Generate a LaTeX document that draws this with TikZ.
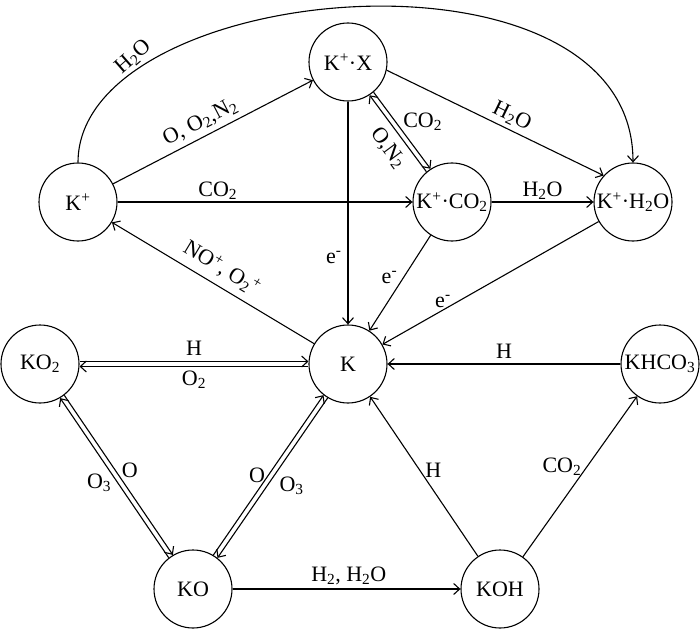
\documentclass[tikz,border=0pt]{standalone}
\usepackage{fontspec}
\setmainfont{Liberation Serif}
\usetikzlibrary{arrows.meta}
\begin{document}
\begin{tikzpicture}[x=1pt,y=-1pt,
  st/.style={circle,draw,line width=1.1pt,minimum size=78pt,inner sep=0pt,font=\fontsize{22}{24}\selectfont},
  lbl/.style={font=\fontsize{22}{24}\selectfont,inner sep=2pt},
  arr/.style={line width=1.1pt,-{Straight Barb[length=6pt,width=11pt,line width=1.1pt]}},
]
\useasboundingbox (0,0) rectangle (700,628);
% nodes
\node[st] (Kp)    at (78,202)  {K\textsuperscript{+}};
\node[st] (KpX)   at (348,62)  {K\textsuperscript{+}·X};
\node[st] (KpCO)  at (452,202) {K\textsuperscript{+}·CO\textsubscript{2}};
\node[st] (KpHO)  at (633,202) {K\textsuperscript{+}·H\textsubscript{2}O};
\node[st] (K)     at (348,364) {K};
\node[st] (KOt)   at (40,364)  {KO\textsubscript{2}};
\node[st] (KHC)   at (660,364) {KHCO\textsubscript{3}};
\node[st] (KO)    at (193,589) {KO};
\node[st] (KOH)   at (500,589) {KOH};
% top part
\draw[arr] (Kp.north) .. controls (78,-20) and (633,-70) .. node[lbl,sloped,above=1pt,pos=0.21,rotate=8]{H\textsubscript{2}O} (KpHO.north);
\draw[arr] (Kp) -- node[lbl,sloped,above=3pt,pos=0.47]{O, O\textsubscript{2},N\textsubscript{2}} (KpX);
\draw[arr] (Kp) -- node[lbl,above,pos=0.34]{CO\textsubscript{2}} (KpCO);
\draw[arr] (KpX.-12) -- node[lbl,sloped,above=2pt,pos=0.55]{H\textsubscript{2}O} (KpHO.138);
\draw[arr,transform canvas={shift={(2pt,1.5pt)}}] (KpX) -- node[lbl,right=5pt,pos=0.39]{CO\textsubscript{2}} (KpCO);
\draw[arr,transform canvas={shift={(-2pt,-1.5pt)}}] (KpCO) -- node[lbl,sloped,below=5pt,pos=0.44]{O,N\textsubscript{2}} (KpX);
\draw[arr] (KpCO) -- node[lbl,above]{H\textsubscript{2}O} (KpHO);
% electrons
\draw[arr] (KpX) -- node[lbl,left=4pt,pos=0.70]{e\textsuperscript{-}} (K);
\draw[arr] (KpCO) -- node[lbl,left=4pt,pos=0.44]{e\textsuperscript{-}} (K);
\draw[arr] (KpHO) -- node[lbl,above,pos=0.72]{e\textsuperscript{-}} (K);
\draw[arr] (K) -- node[lbl,sloped,above=5pt,pos=0.5]{NO\textsuperscript{+}, O\textsubscript{2}\textsuperscript{+}} (Kp);
% lower part
\draw[arr,transform canvas={yshift=2.5pt}] (KOt) -- node[lbl,above=3pt]{H} (K);
\draw[arr,transform canvas={yshift=-2.5pt}] (K) -- node[lbl,below=2pt]{O\textsubscript{2}} (KOt);
\draw[arr,transform canvas={shift={(2.07pt,1.41pt)}}] (KOt) -- node[lbl,right=4pt,pos=0.47]{O} (KO);
\draw[arr,transform canvas={shift={(-2.07pt,-1.41pt)}}] (KO) -- node[lbl,left=4pt,pos=0.47]{O\textsubscript{3}} (KOt);
\draw[arr,transform canvas={shift={(-2.06pt,1.42pt)}}] (KO) -- node[lbl,left=1pt,pos=0.5]{O} (K);
\draw[arr,transform canvas={shift={(2.06pt,-1.42pt)}}] (K) -- node[lbl,right=10pt,pos=0.55]{O\textsubscript{3}} (KO);
\draw[arr] (KO) -- node[lbl,above=2pt,pos=0.51]{H\textsubscript{2}, H\textsubscript{2}O} (KOH);
\draw[arr] (KOH) -- node[lbl,right=3pt,pos=0.54]{H} (K);
\draw[arr] (KOH) -- node[lbl,left=3pt,pos=0.56]{CO\textsubscript{2}} (KHC);
\draw[arr] (KHC) -- node[lbl,above=3pt]{H} (K);
\end{tikzpicture}
\end{document}
